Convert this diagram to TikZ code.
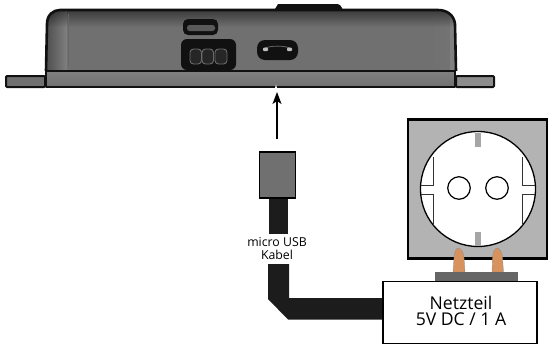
\documentclass[tikz,border=0pt]{standalone}
\usepackage{fontspec}
\setmainfont{Open Sans}
\usetikzlibrary{arrows.meta,fadings}
\definecolor{bodygray}{HTML}{707070}
\definecolor{bodydark}{HTML}{4E4E4E}
\definecolor{sidegray}{HTML}{808080}
\definecolor{platec}{HTML}{B3B3B3}
\definecolor{stripc}{HTML}{666666}
\definecolor{copperc}{HTML}{D8925E}
\definecolor{cablec}{HTML}{1C1C1C}
\definecolor{outl}{HTML}{111111}
\tikzset{
  x=1pt,y=-1pt,
  casing/.style={draw=outl,line width=2pt,line join=round},
  port/.style={fill=outl,draw=none},
  contact/.style={draw=black!58,line width=.9pt,fill=black!85,rounded corners=3.5pt},
  clipmark/.style={fill=black!35,draw=none},
  springline/.style={draw=black!80,line width=.8pt},
  hole/.style={draw=black,line width=1.2pt,fill=white},
  pin/.style={fill=copperc,draw=black!45,line width=.3pt},
  lbl/.style={font=\fontsize{12.3pt}{13pt}\selectfont,align=center,inner sep=0pt},
  psu/.style={font=\fontsize{17.6pt}{16pt}\selectfont,align=center,inner sep=0pt},
}
\begin{document}
\begin{tikzpicture}
\useasboundingbox (0,0) rectangle (560,349);

% Mounting flanges
\draw[casing,fill=bodygray,rounded corners=1pt] (6,76) rectangle (45,87);
\draw[casing,fill=bodygray!80!white,rounded corners=1pt] (456,76) rectangle (494,87);

% Button on the top edge
\fill[outl] (275,9) -- (278,4) -- (337,4) .. controls (340,4) and (342,7) .. (343,10) -- cycle;

% Housing body with soft edge shading
\begin{scope}
\clip (46,71) -- (47,24) .. controls (47,15) and (53,10) .. (60,10) -- (438,10)
  .. controls (447,10) and (454,15) .. (455,24) -- (456,71) -- cycle;
\fill[bodygray] (40,5) rectangle (460,75);
\shade[left color=bodydark,right color=sidegray] (46,5) rectangle (67,75);
\shade[left color=bodygray,right color=sidegray!110] (430,5) rectangle (450,75);
\fill[sidegray] (450,5) rectangle (460,75);
\fill[black,opacity=.5,path fading=south] (40,9) rectangle (460,27);
\end{scope}
\draw[draw=black!60,line width=.7pt] (68,14) -- (68,66);
\draw[casing,line width=2.6pt] (46,71) -- (47,24) .. controls (47,15) and (53,10) .. (60,10) -- (438,10)
  .. controls (447,10) and (454,15) .. (455,24) -- (456,71);

% Base plate
\shade[top color=sidegray,bottom color=bodygray] (46,71) rectangle (455,87);
\draw[casing] (46,71) rectangle (455,87);
\draw[outl,line width=2.2pt] (46,71) -- (456,71);

% Ports on the front face
\fill[port,rounded corners=5pt] (183,19) rectangle (218,35);
\fill[black!65,rounded corners=2.5pt] (187,25) rectangle (215,31);
\fill[port,rounded corners=6pt] (181,39) rectangle (236,70);
\draw[contact] (190,49) rectangle (201.5,64);
\draw[contact] (202,49) rectangle (213.5,64);
\draw[contact] (215,49) rectangle (227,64);
\fill[port,rounded corners=8pt] (257,40) rectangle (298,60);
\draw[black!60,line width=.8pt] (265,48) .. controls (272,45.5) and (283,45.5) .. (290,48);
\fill[black!25,rounded corners=1pt] (263,47.5) rectangle (268,51);
\fill[black!25,rounded corners=1pt] (287,47.5) rectangle (292,51);

% Pointer below the housing
\coordinate (arrowfoot) at (277,139);
\coordinate (arrowtip) at (277,92);
\draw[line width=1.3pt,-{Stealth[length=12pt,width=9pt,inset=3pt]}] (arrowfoot) -- (arrowtip);
\fill[white] (275,88) -- (276,84.5) -- (277,88) -- cycle;

% Cable
\fill[cablec] (269,198) rectangle (288,234);
\fill[cablec] (268,264) -- (289,264) -- (289,298) -- (384,298) -- (384,319.5) -- (288,319.5) -- (268,299) -- cycle;

% Micro USB plug
\node[draw=black,line width=1.6pt,fill=bodygray,minimum width=36pt,minimum height=45.5pt,inner sep=0pt] (plug) at (277.5,175) {};

% Cable label
\node[lbl] (cablelabel) at (277,248.5) {micro USB\\Kabel};

% Wall socket
\node[draw=black,line width=2.2pt,fill=platec,minimum width=139pt,minimum height=139pt,inner sep=0pt] (plate) at (477.5,189) {};
\node[circle,draw=black,line width=1.3pt,fill=white,minimum size=115pt,inner sep=0pt] (well) at (478,189) {};
\fill[clipmark] (475,133) rectangle (481,147);
\fill[clipmark] (475,232) rectangle (481,246);
\draw[springline] (433,157) -- (433,185) -- (421,185);
\draw[springline] (421,194) -- (433,194) -- (433,224);
\draw[springline] (522,157) -- (522,185) -- (535,185);
\draw[springline] (535,194) -- (522,194) -- (522,224);
\node[circle,hole,minimum size=22.5pt,inner sep=0pt] (holeL) at (459,188) {};
\node[circle,hole,minimum size=22.5pt,inner sep=0pt] (holeR) at (497,188) {};

% Plug pins
\draw[pin] (453,272) -- (454,258) .. controls (454,253) and (456,248) .. (458.5,248)
  .. controls (461,248) and (464,253) .. (464,258) -- (465,272) -- cycle;
\draw[pin] (492,272) -- (492.5,258) .. controls (492.5,253) and (495,248) .. (497,248)
  .. controls (500,248) and (502.5,253) .. (502.5,258) -- (503.5,272) -- cycle;

% Power supply
\fill[stripc] (435,272) rectangle (518,282);
\node[draw=black,line width=1.3pt,fill=white,minimum width=154pt,minimum height=61.5pt,inner sep=0pt] (psu) at (460,312.5) {};
\node[psu] (psutext) at (461,311) {Netzteil\\5V DC / 1 A};
\end{tikzpicture}
\end{document}
